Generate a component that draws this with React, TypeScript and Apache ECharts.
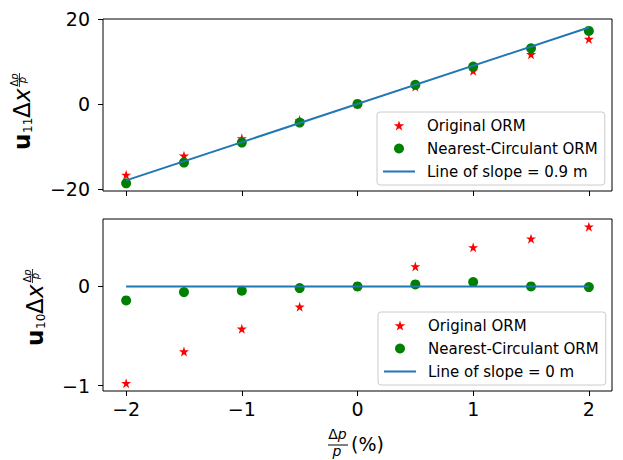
import React, { useEffect, useRef } from "react";
import * as echarts from "echarts";

// ---- data ----
const xValues = [-2, -1.5, -1, -0.5, 0, 0.5, 1, 1.5, 2];
const original11 = [-16.7, -12.2, -8.1, -3.8, 0, 4.1, 7.8, 11.7, 15.3];
const circulant11 = [-18.7, -13.8, -9.1, -4.4, 0, 4.5, 8.8, 13.1, 17.2];
const original10 = [-0.976, -0.657, -0.427, -0.205, 0, 0.202, 0.394, 0.482, 0.603];
const circulant10 = [-0.141, -0.057, -0.044, -0.017, 0, 0.02, 0.044, 0, -0.007];
const lineX = [-2, 2];
const slope11 = 0.9;
const slope10 = 0;
const xTicks = [-2, -1, 0, 1, 2];
const yTicksTop = [-20, 0, 20];
const yTicksBottom = [-1, 0];
const nameOriginal = "Original ORM";
const nameCirculant = "Nearest-Circulant ORM";
const nameLine11 = "Line of slope = 0.9 m";
const nameLine10 = "Line of slope = 0 m";

const STAR =
  "path://M50,0 L61.2,34.5 L97.6,34.5 L68.2,55.9 L79.4,90.5 L50,69.1 L20.6,90.5 L31.8,55.9 L2.4,34.5 L38.8,34.5 Z";
const BAR = "path://M0,0 L32,0 L32,2 L0,2 Z";
const FONT = "DejaVu Sans";
const fmt = (v: number) => (v < 0 ? "\u2212" + Math.abs(v) : String(v));

function yLabel(x: number, y: number, sub: string) {
  const t = (text: string, lx: number, ly: number, fs: number, extra: any = {}) => ({
    type: "text",
    x: lx,
    y: ly,
    style: {
      text,
      fontSize: fs,
      fontFamily: FONT,
      fill: "#000",
      align: "left",
      verticalAlign: "middle",
      ...extra,
    },
  });
  return {
    type: "group",
    x,
    y,
    rotation: Math.PI / 2,
    children: [
      t("u", 0, -8, 23, { fontWeight: "bold" }),
      t(sub, 17, -2.5, 12),
      t("\u0394", 32, -8, 23),
      t("x", 48, -8, 23, { fontStyle: "italic" }),
      {
        type: "text",
        x: 70,
        y: -16,
        style: {
          text: "{a|\u0394}{b|p}",
          fill: "#000",
          align: "center",
          verticalAlign: "middle",
          rich: {
            a: { fontSize: 10, fontFamily: FONT, fill: "#000" },
            b: { fontSize: 10, fontFamily: FONT, fontStyle: "italic", fill: "#000" },
          },
        },
      },
      {
        type: "line",
        shape: { x1: 63, y1: -10.5, x2: 77, y2: -10.5 },
        style: { stroke: "#000", lineWidth: 0.8 },
      },
      t("p", 70, -7.4, 10, { align: "center", fontStyle: "italic" }),
    ],
  };
}

export default function App() {
  const ref = useRef<HTMLDivElement>(null);
  useEffect(() => {
    if (!ref.current) return;
    const chart = echarts.init(ref.current, null, { renderer: "svg" });
    const axisTick = { show: true, length: 5, inside: false, lineStyle: { color: "#000", width: 1 } };
    const labelStyle = { fontSize: 19, fontFamily: FONT, color: "#000" };
    const legendBase = {
      orient: "vertical",
      itemWidth: 32,
      itemHeight: 10,
      itemGap: 8,
      textStyle: { fontSize: 15, fontFamily: FONT, color: "#000", padding: [0, 0, 0, 7] },
      borderColor: "#cccccc",
      borderWidth: 1,
      borderRadius: 3,
      backgroundColor: "rgba(255,255,255,0.8)",
      padding: [6, 7, 6, 6],
      selectedMode: false,
    };
    const grids = [
      { left: 103, top: 19, width: 509, height: 172 },
      { left: 103, top: 219, width: 509, height: 172 },
    ].map((g) => ({ ...g, show: true, borderColor: "#000", borderWidth: 1, backgroundColor: "transparent" }));

    const starSeries = (name: string, idx: number, vals: number[]) => ({
      type: "scatter",
      name,
      xAxisIndex: idx,
      yAxisIndex: idx,
      symbol: STAR,
      symbolSize: 10,
      itemStyle: { color: "#ff0000", opacity: 1 },
      data: xValues.map((x, i) => [x, vals[i]]),
    });
    const dotSeries = (name: string, idx: number, vals: number[]) => ({
      type: "scatter",
      name,
      xAxisIndex: idx,
      yAxisIndex: idx,
      symbol: "circle",
      symbolSize: 10,
      itemStyle: { color: "#008000", opacity: 1 },
      data: xValues.map((x, i) => [x, vals[i]]),
    });
    const lineSeries = (name: string, idx: number, slope: number) => ({
      type: "line",
      name,
      xAxisIndex: idx,
      yAxisIndex: idx,
      symbol: "none",
      showSymbol: false,
      lineStyle: { color: "#1f77b4", width: 2 },
      itemStyle: { color: "#1f77b4" },
      data: lineX.map((x) => [x, slope * 10 * x]),
    });

    chart.setOption({
      animation: false,
      backgroundColor: "#fff",
      grid: grids,
      xAxis: [0, 1].map((i) => ({
        type: "value",
        gridIndex: i,
        min: -2.2,
        max: 2.2,
        axisLine: { show: false, onZero: false },
        splitLine: { show: false },
        axisTick: { ...axisTick, customValues: xTicks },
        axisLabel: {
          show: i === 1,
          customValues: xTicks,
          formatter: fmt,
          margin: 8,
          ...labelStyle,
        },
      })),
      yAxis: [
        {
          type: "value",
          gridIndex: 0,
          min: -20.5,
          max: 20,
          axisLine: { show: false, onZero: false },
          splitLine: { show: false },
          axisTick: { ...axisTick, customValues: yTicksTop },
          axisLabel: { customValues: yTicksTop, formatter: fmt, margin: 13, ...labelStyle },
        },
        {
          type: "value",
          gridIndex: 1,
          min: -1.055,
          max: 0.68,
          axisLine: { show: false, onZero: false },
          splitLine: { show: false },
          axisTick: { ...axisTick, customValues: yTicksBottom },
          axisLabel: { customValues: yTicksBottom, formatter: fmt, margin: 13, ...labelStyle },
        },
      ],
      legend: [
        {
          ...legendBase,
          left: 377,
          top: 112,
          data: [nameOriginal, nameCirculant, { name: nameLine11, icon: BAR }],
        },
        {
          ...legendBase,
          left: 378,
          top: 312,
          data: [nameOriginal, nameCirculant, { name: nameLine10, icon: BAR }],
        },
      ],
      series: [
        starSeries(nameOriginal, 0, original11),
        dotSeries(nameCirculant, 0, circulant11),
        lineSeries(nameLine11, 0, slope11),
        starSeries(nameOriginal, 1, original10),
        dotSeries(nameCirculant, 1, circulant10),
        lineSeries(nameLine10, 1, slope10),
      ],
      graphic: [
        yLabel(30, 150, "11"),
        yLabel(43, 346, "10"),
        {
          type: "text",
          x: 337.5,
          y: 434,
          style: {
            text: "{a|\u0394}{b|p}",
            fill: "#000",
            align: "center",
            verticalAlign: "middle",
            rich: {
              a: { fontSize: 14, fontFamily: FONT, fill: "#000" },
              b: { fontSize: 14, fontFamily: FONT, fontStyle: "italic", fill: "#000" },
            },
          },
        },
        {
          type: "line",
          shape: { x1: 328, y1: 445, x2: 348, y2: 445 },
          style: { stroke: "#000", lineWidth: 1 },
        },
        {
          type: "text",
          x: 337,
          y: 451,
          style: { text: "p", fontSize: 14, fontFamily: FONT, fontStyle: "italic", fill: "#000", align: "center", verticalAlign: "middle" },
        },
        {
          type: "text",
          x: 351,
          y: 443.5,
          style: { text: "(%)", fontSize: 19, fontFamily: FONT, fill: "#000", align: "left", verticalAlign: "middle" },
        },
      ],
    });
    return () => chart.dispose();
  }, []);
  return (
    <div
      ref={ref}
      style={{ position: "fixed", left: 0, top: 0, width: 623, height: 460 }}
    />
  );
}
